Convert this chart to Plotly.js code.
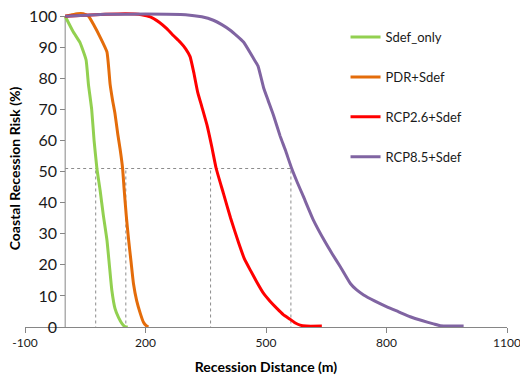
<!DOCTYPE html>
<html>
<head>
<meta charset="utf-8">
<script src="https://cdn.plot.ly/plotly-3.0.1.min.js"></script>
<style>html,body{margin:0;padding:0;background:#fff;}#chart{width:520px;height:380px;}</style>
</head>
<body>
<div id="chart"></div>
<script>
var seriesNames = ["Sdef_only", "PDR+Sdef", "RCP2.6+Sdef", "RCP8.5+Sdef"];
var seriesColors = ["#92D050", "#E46C0A", "#FF0000", "#8064A2"];

var sdefX = [0, 20, 37, 52, 58, 66, 72, 79, 87, 95, 104, 110, 116, 124, 133, 142, 150, 156];
var sdefY = [100, 95, 91.5, 86, 78, 70, 60, 51, 44, 36, 28, 20, 12, 6, 3, 1, 0, 0];

var pdrX = [0, 15, 30, 45, 58, 72, 87, 104, 112, 118, 124, 131, 137, 143, 147, 152, 158, 164, 170, 178, 187, 195, 201, 207];
var pdrY = [100, 100.4, 100.8, 100.8, 100, 97, 93.3, 88.5, 78, 73, 68.7, 62, 57, 51, 44, 36, 28, 21, 14, 8.5, 4.4, 1.5, 0.5, 0];

var rcp26X = [0, 50, 100, 150, 190, 212, 235, 253, 270, 286, 300, 311, 320, 330, 340, 353, 365, 376, 394, 412, 432, 446, 461, 477, 494, 510, 527, 543, 560, 573, 585, 600, 639];
var rcp26Y = [100, 100.3, 100.6, 100.8, 100.5, 99.8, 98, 96, 93.7, 91.7, 89.5, 87, 82, 75.5, 71, 65, 58, 51, 43, 35, 27, 22, 18.3, 14.5, 10.8, 8.3, 6, 4, 2.5, 1.3, 0.6, 0.3, 0.3];

var rcp85X = [0, 50, 100, 200, 300, 340, 369, 390, 411, 444, 469, 480, 494, 505, 519, 535, 548, 564, 578, 593, 618, 647, 665, 685, 710, 725, 743, 770, 801, 830, 859, 890, 917, 934, 960, 992];
var rcp85Y = [100, 100.3, 100.6, 100.7, 100.5, 99.8, 98.7, 97.3, 95.5, 91.7, 86.4, 84, 77, 73, 68, 61.5, 57, 51, 46.5, 42, 34.4, 27.4, 23.5, 19.4, 14, 12, 10.3, 8.4, 6.5, 4.9, 3.3, 2, 1, 0.4, 0.3, 0.3];

var refRisk = 51;
var refDistances = [76, 151, 362, 562];

var xTicks = [-100, 200, 500, 800, 1100];
var xTickText = ["-100", "200", "500", "800", "1100"];
var yTicks = [0, 10, 20, 30, 40, 50, 60, 70, 80, 90, 100];

var xs = [sdefX, pdrX, rcp26X, rcp85X];
var ys = [sdefY, pdrY, rcp26Y, rcp85Y];

var traces = seriesNames.map(function (n, i) {
  return {
    type: "scatter", mode: "lines", name: n, x: xs[i], y: ys[i],
    line: {color: seriesColors[i], width: 3, shape: "spline", smoothing: 0.4},
    legendgroup: "g" + i
  };
});

var axisColor = "#868686";
var dotLine = {color: "#8c8c8c", width: 1, dash: "dot"};
var shapes = [
  {type: "line", xref: "x", yref: "y", x0: 0, x1: 0, y0: 0, y1: yTicks[yTicks.length - 1], line: {color: axisColor, width: 1}, layer: "below"},
  {type: "line", xref: "x", yref: "y", x0: 0, x1: refDistances[refDistances.length - 1], y0: refRisk, y1: refRisk, line: dotLine, layer: "below"}
];
refDistances.forEach(function (d) {
  shapes.push({type: "line", xref: "x", yref: "y", x0: d, x1: d, y0: -0.8, y1: refRisk, line: dotLine, layer: "below"});
});

var fontFam = "Lato, 'Open Sans', sans-serif";
var layout = {
  width: 520, height: 380,
  margin: {l: 25, r: 13, t: 10, b: 53},
  paper_bgcolor: "#fff", plot_bgcolor: "#fff",
  font: {family: fontFam, size: 14, color: "#1a1a1a"},
  showlegend: true,
  legend: {x: 0.665, y: 0.962, xanchor: "left", yanchor: "top", tracegroupgap: 20,
           font: {family: fontFam, size: 13, color: "#1a1a1a"}, bgcolor: "rgba(0,0,0,0)"},
  xaxis: {
    range: [-100, 1100], tickvals: xTicks, ticktext: xTickText, ticks: "outside", ticklen: 5, tickcolor: axisColor,
    showline: true, linecolor: axisColor, linewidth: 1, showgrid: false, zeroline: false,
    tickfont: {size: 12}, ticklabeloverflow: "allow", fixedrange: true,
    title: {text: "<b>Recession Distance (m)</b>", font: {size: 14, color: "#000"}, standoff: 12}
  },
  yaxis: {
    range: [0, 102], tickvals: yTicks, ticks: "outside", ticklen: 5, tickcolor: axisColor,
    showline: false, showgrid: false, zeroline: false,
    anchor: "free", position: 100 / 1200, tickfont: {size: 16}, fixedrange: true,
    title: {text: "<b>Coastal Recession Risk (%)</b>", font: {size: 14, color: "#000"}, standoff: 4}
  },
  shapes: shapes
};

Plotly.newPlot("chart", traces, layout, {displayModeBar: false, staticPlot: true});
</script>
</body>
</html>
